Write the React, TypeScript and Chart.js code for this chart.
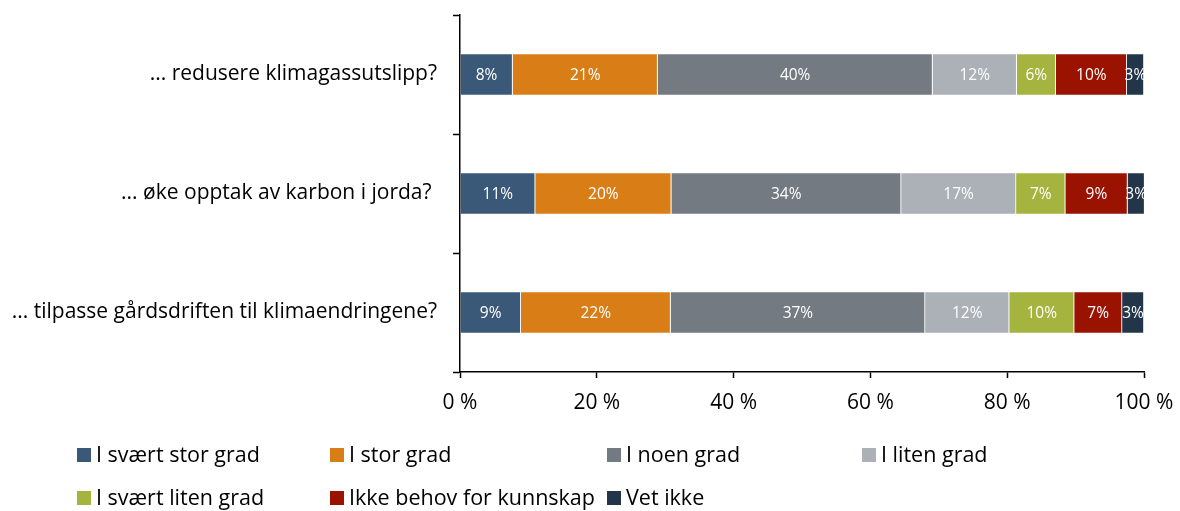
import React, { useEffect, useRef } from "react";
import { Chart, registerables } from "chart.js";

Chart.register(...registerables);

const categories = [
  "... redusere klimagassutslipp?",
  "... øke opptak av karbon i jorda? ",
  "... tilpasse gårdsdriften til klimaendringene?",
];

const seriesNames = [
  "I svært stor grad",
  "I stor grad",
  "I noen grad",
  "I liten grad",
  "I svært liten grad",
  "Ikke behov for kunnskap",
  "Vet ikke",
];

const seriesColors = [
  "#3A5878",
  "#D97E17",
  "#737A82",
  "#ABB1B7",
  "#A5B43F",
  "#991300",
  "#233548",
];

const svaertStorGrad = [7.7, 11.0, 8.9];
const storGrad = [21.2, 19.9, 21.9];
const noenGrad = [40.2, 33.6, 37.2];
const litenGrad = [12.3, 16.8, 12.3];
const svaertLitenGrad = [5.7, 7.2, 9.5];
const ikkeBehov = [10.4, 9.1, 7.0];
const vetIkke = [2.5, 2.5, 3.2];

const seriesValues = [
  svaertStorGrad,
  storGrad,
  noenGrad,
  litenGrad,
  svaertLitenGrad,
  ikkeBehov,
  vetIkke,
];

const xTickValues = [0, 20, 40, 60, 80, 100];

const FONT = "'Open Sans', Lato, sans-serif";

const legendColumnsX = [77, 330, 607, 862];
const legendRowsY = [455, 498];

const barLabelPlugin = {
  id: "barLabels",
  afterDatasetsDraw(chart: any) {
    const ctx = chart.ctx;
    ctx.save();
    ctx.font = `15.5px ${FONT}`;
    ctx.fillStyle = "#ffffff";
    ctx.textAlign = "center";
    ctx.textBaseline = "middle";
    chart.data.datasets.forEach((ds: any, di: number) => {
      const meta = chart.getDatasetMeta(di);
      meta.data.forEach((el: any, i: number) => {
        const v = ds.data[i];
        const p = el.getCenterPoint();
        ctx.fillText(`${Math.round(v)}%`, p.x, p.y + 1);
      });
    });
    ctx.restore();
  },
};

const legendPlugin = {
  id: "gridLegend",
  afterDraw(chart: any) {
    const ctx = chart.ctx;
    ctx.save();
    ctx.font = `21.5px ${FONT}`;
    ctx.textAlign = "left";
    ctx.textBaseline = "middle";
    chart.data.datasets.forEach((ds: any, i: number) => {
      const col = i % 4;
      const row = Math.floor(i / 4);
      const x = legendColumnsX[col];
      const y = legendRowsY[row];
      ctx.fillStyle = ds.backgroundColor;
      ctx.fillRect(x, y - 7, 14, 14);
      ctx.fillStyle = "#000000";
      ctx.fillText(ds.label, x + 19, y + 1);
    });
    ctx.restore();
  },
};

export default function App() {
  const canvasRef = useRef<HTMLCanvasElement | null>(null);

  useEffect(() => {
    if (!canvasRef.current) return;
    const chart = new Chart(canvasRef.current, {
      type: "bar",
      data: {
        labels: categories,
        datasets: seriesNames.map((name, i) => ({
          label: name,
          data: seriesValues[i],
          backgroundColor: seriesColors[i],
          borderColor: "rgba(255,255,255,0.55)",
          borderWidth: 0.8,
          categoryPercentage: 1,
          barPercentage: 0.355,
        })),
      },
      options: {
        indexAxis: "y",
        animation: false,
        responsive: true,
        maintainAspectRatio: false,
        layout: { padding: { top: 15, right: 36, left: 0, bottom: 0 } },
        plugins: {
          legend: { display: false },
          tooltip: { enabled: false },
        },
        scales: {
          x: {
            stacked: true,
            min: 0,
            max: 100,
            afterBuildTicks: (scale: any) => {
              scale.ticks = xTickValues.map((v) => ({ value: v }));
            },
            afterFit: (scale: any) => {
              scale.height = 139;
              scale.paddingLeft = 0;
              scale.paddingRight = 0;
            },
            ticks: {
              font: { family: FONT, size: 21 },
              color: "#000000",
              padding: 12,
              callback: (v: any) => `${v} %`,
              maxRotation: 0,
            },
            grid: {
              drawOnChartArea: false,
              drawTicks: true,
              tickLength: 6,
              tickColor: "#000000",
              tickWidth: 1.5,
            },
            border: { display: true, color: "#000000", width: 1.5 },
          },
          y: {
            stacked: true,
            afterFit: (scale: any) => {
              scale.width = 460;
              scale.paddingTop = 0;
              scale.paddingBottom = 0;
            },
            ticks: {
              font: { family: FONT, size: 21 },
              color: "#000000",
              padding: 16,
            },
            grid: {
              drawOnChartArea: false,
              drawTicks: true,
              tickLength: 7,
              tickColor: "#000000",
              tickWidth: 1.5,
              offset: true,
            },
            border: { display: true, color: "#000000", width: 1.5 },
          },
        },
      },
      plugins: [barLabelPlugin, legendPlugin],
    });
    return () => chart.destroy();
  }, []);

  return (
    <div style={{ position: "fixed", left: 0, top: 0, width: 1180, height: 511, background: "#ffffff" }}>
      <canvas ref={canvasRef} />
    </div>
  );
}
